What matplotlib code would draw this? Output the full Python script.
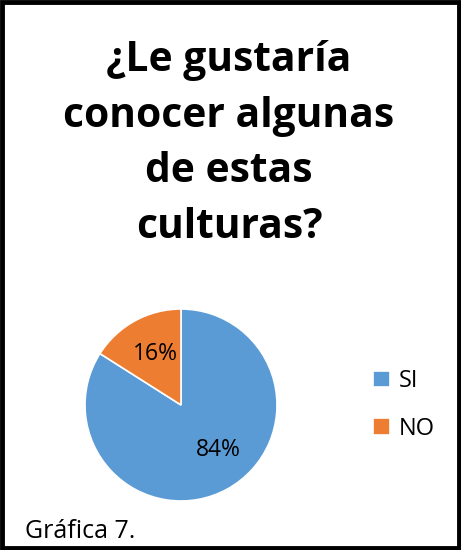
import matplotlib
matplotlib.use("Agg")
import matplotlib.pyplot as plt
from matplotlib.patches import Rectangle

labels = ["SI", "NO"]
values = [84, 16]
colors = ["#5B9BD5", "#ED7D31"]
title = "¿Le gustaría\nconocer algunas\nde estas\nculturas?"
caption = "Gráfica 7."

plt.rcParams['font.family'] = ['Open Sans', 'DejaVu Sans']
W, H = 461, 550
fig = plt.figure(figsize=(W/100, H/100), dpi=100)

fig.text(229/W, 1-40/H, title, ha='center', va='top', fontsize=29.3, fontweight='bold',
         linespacing=1.47)

cx, cy, r = 181, 405, 96
ax = fig.add_axes([(cx-r)/W, 1-(cy+r)/H, 2*r/W, 2*r/H])
wedges, texts = ax.pie(values, colors=colors, startangle=90, counterclock=False,
                       wedgeprops=dict(edgecolor='white', linewidth=1.2), radius=1)
ax.set_xlim(-1, 1); ax.set_ylim(-1, 1)
ax.set_aspect('auto')
ax.axis('off')
ax.text(0.39, -0.47, "84%", ha='center', va='center', fontsize=16.5)
ax.text(-0.27, 0.53, "16%", ha='center', va='center', fontsize=16.5)

leg = fig.legend(wedges, labels, loc='center left', bbox_to_anchor=(352/W, 1-405/H),
                 frameon=False, fontsize=17, handlelength=0.72, handleheight=0.72,
                 labelspacing=1.0, handletextpad=0.35)

fig.text(25/W, 1-538/H, caption, ha='left', va='baseline', fontsize=18)

fig.patches.append(Rectangle((0.004, 0.004), 0.992, 0.992, transform=fig.transFigure,
                             fill=False, edgecolor='black', linewidth=3.5))
fig.savefig("out.png", dpi=100)
